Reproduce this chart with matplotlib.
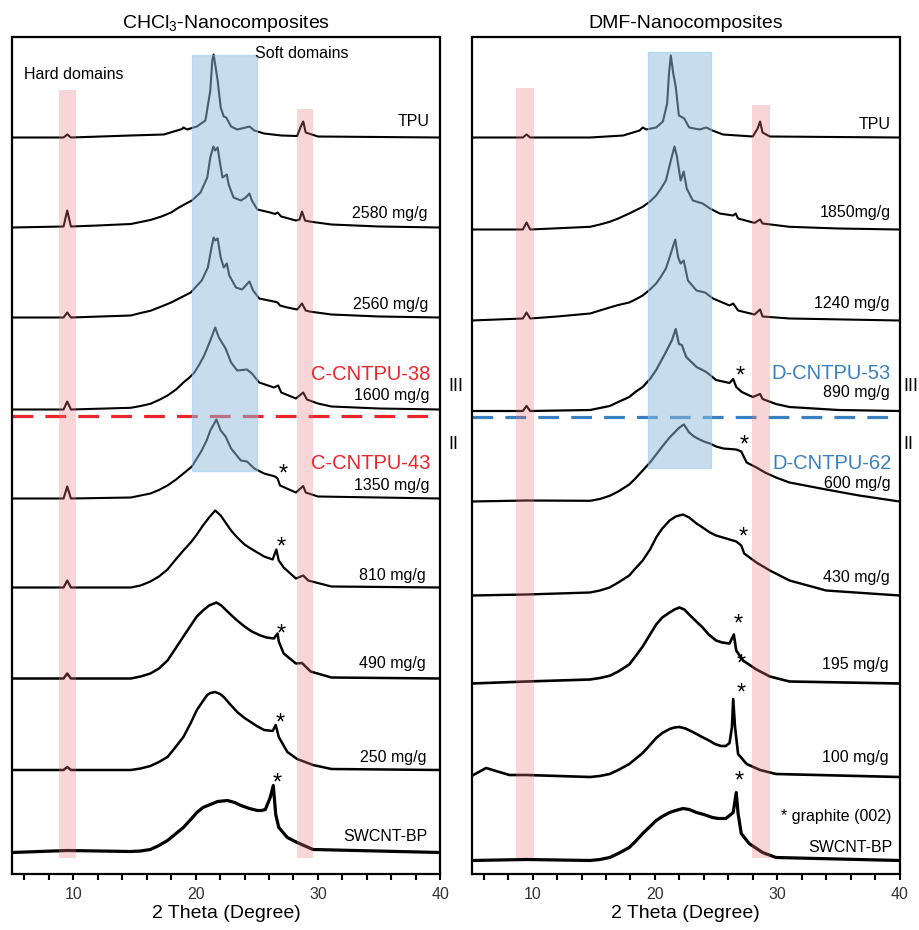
import matplotlib
matplotlib.use('Agg')
import matplotlib.pyplot as plt
from matplotlib.patches import Rectangle
from matplotlib.ticker import MultipleLocator

plt.rcParams['font.family'] = ['Liberation Sans', 'DejaVu Sans']
plt.rcParams['mathtext.fontset'] = 'custom'
plt.rcParams['mathtext.rm'] = 'Liberation Sans'

# ---- CHCl3 panel: 2 theta (x) and intensity above each baseline (h)
c_tpu_x = [5, 9.2, 9.5, 9.8, 14.7, 17.4, 18.9, 19.0, 19.3, 20.1, 20.8, 21.2, 21.36, 21.47, 21.6, 21.8, 22.05, 22.3, 22.5, 22.9, 23.4, 24.1, 24.4, 24.8, 25.6, 27.0, 28.3, 28.6, 28.8, 29.0, 30, 40]
c_tpu_h = [0, 0, 3, 0, 2, 3, 8.5, 10, 8, 11, 17, 47, 77, 83, 73, 57, 30, 21, 20, 11, 8, 10, 11, 7, 4, 2, 1.5, 11, 16, 5, 1, 0]
c_2580_x = [5, 9.2, 9.5, 9.8, 12, 14.7, 15.5, 16.3, 17.2, 18.0, 18.5, 19.0, 19.7, 20.4, 20.95, 21.2, 21.45, 21.6, 21.8, 22.0, 22.2, 22.55, 22.7, 23.1, 23.7, 24.1, 24.4, 24.6, 25.05, 26.1, 26.5, 26.7, 27.0, 28.2, 28.5, 28.7, 28.95, 29.3, 31.1, 35, 40]
c_2580_h = [0, 1, 17, 1, 2, 3.5, 5.5, 7.5, 11, 15, 19, 22.5, 27, 35, 50, 70, 81, 77, 80, 64, 50, 53, 43, 30, 27, 30, 34, 27, 18, 15, 13.5, 15, 11, 7, 8, 16, 7, 6, 3, 1, 0]
c_2560_x = [5, 9.2, 9.5, 9.8, 14.7, 15.5, 16.3, 17.2, 18.0, 18.8, 19.6, 20.5, 21.0, 21.3, 21.47, 21.6, 21.8, 22.05, 22.3, 22.55, 22.75, 23.3, 23.8, 24.4, 24.7, 25.2, 26.4, 26.7, 26.9, 27.5, 28.3, 28.7, 29.0, 29.3, 31.1, 35, 40]
c_2560_h = [0, 0, 5, 0, 2, 4.5, 6.7, 11, 15, 20, 25, 37, 50, 70, 80, 77, 79, 60, 50, 54, 42, 30, 28, 36, 27, 19, 16, 15, 12, 10, 8, 14, 7, 6, 3, 1, 0]
c_1600_x = [5, 9.2, 9.5, 9.8, 14.7, 15.5, 16.3, 17.0, 17.7, 18.4, 19.0, 19.5, 19.9, 20.3, 20.7, 21.2, 21.6, 21.9, 22.45, 22.9, 23.4, 24.2, 24.6, 25.2, 26.4, 26.75, 27.0, 28.2, 28.8, 29.1, 30, 31.1, 35, 40]
c_1600_h = [0, 0, 8, 0, 1.7, 3.5, 5.7, 9.5, 14, 20, 27, 32, 37, 45, 54, 69, 82, 72, 61, 47, 39, 40, 36, 27, 22, 24, 17, 11, 17, 10, 6, 3, 1, 0]
c_1350_x = [5, 9.2, 9.5, 9.8, 14.7, 15.5, 16.3, 17.0, 17.7, 18.4, 19.0, 19.4, 19.7, 20.1, 20.5, 20.9, 21.2, 21.7, 22.05, 22.45, 22.9, 23.7, 24.2, 24.8, 25.6, 26.5, 26.7, 26.9, 28.2, 28.8, 29.0, 30, 40]
c_1350_h = [0, 0, 12, 0, 1, 3, 5, 8.5, 13, 19, 25, 29, 32, 40, 48, 58, 68, 79, 68, 62, 50, 38, 37, 30, 25, 22, 20, 13, 6, 12.5, 6, 2, 0]
c_810_x = [5, 9.2, 9.5, 9.8, 14.7, 15.5, 16.3, 17.0, 17.7, 18.3, 19.0, 19.6, 20.1, 20.6, 21.1, 21.6, 22.05, 22.5, 22.9, 23.4, 24.0, 24.5, 25.05, 25.6, 26.3, 26.6, 26.8, 27.2, 28.2, 28.8, 29.2, 31.1, 40]
c_810_h = [0, 0, 7, 0, 0, 2, 6, 11, 18, 27, 37, 45, 53, 62, 70, 77, 72, 64, 57, 50, 43, 39, 35, 31, 28, 38, 27, 20, 9, 12, 7, 1, 0]
c_490_x = [5, 9.2, 9.5, 9.8, 14.7, 15.5, 16.3, 17.0, 17.7, 18.3, 19.0, 19.6, 20.1, 20.6, 21.1, 21.7, 22.1, 22.6, 23.3, 24.0, 24.6, 25.3, 25.8, 26.4, 26.7, 26.8, 27.2, 28.2, 28.7, 29.4, 31.1, 40]
c_490_h = [0, 0, 5, 0, 0, 2, 5, 10, 18, 29, 42, 53, 62, 68, 73, 76, 73, 67, 59, 52, 47, 43, 41, 40, 45, 37, 25, 15, 15.5, 7, 1, 0]
c_250_x = [5, 9.2, 9.5, 9.8, 14.7, 15.5, 16.3, 17.0, 17.7, 18.3, 19.0, 19.6, 20.1, 20.6, 20.95, 21.2, 21.6, 22.0, 22.3, 22.8, 23.4, 24.0, 24.5, 25.0, 25.6, 26.3, 26.55, 26.8, 27.5, 28.3, 29.6, 31.1, 40]
c_250_h = [0, 0, 3, 0, 0, 1.5, 4, 8, 13, 22, 33, 47, 60, 69, 75, 77, 78, 76, 73, 66, 58, 52, 48, 44, 40, 39, 45, 33, 18, 11, 5, 1, 0]
c_bp_x = [5, 9.5, 14.7, 15.5, 16.3, 17.0, 17.7, 18.3, 19.0, 19.6, 20.1, 20.6, 21.2, 21.8, 22.6, 23.2, 23.7, 24.4, 25.05, 25.4, 25.7, 26.1, 26.35, 26.55, 26.8, 27.5, 28.3, 29.6, 40]
c_bp_h = [0, 2, 1, 1.5, 3, 7, 12, 18, 25, 33, 40, 45, 48, 51, 52, 50, 47, 44, 42, 42, 43, 55, 67, 38, 25, 15, 10, 3, 0]

# ---- DMF panel
d_tpu_x = [5, 9.2, 9.5, 9.8, 14.7, 17.4, 18.75, 19.0, 19.3, 20.1, 20.65, 21.0, 21.15, 21.3, 21.5, 21.7, 21.96, 22.4, 22.8, 23.65, 24.2, 24.7, 25.56, 28.0, 28.4, 28.6, 28.8, 29.4, 40]
d_tpu_h = [0, 0, 3, 0, 0, 2, 7, 10, 8, 10, 16, 34, 64, 82, 64, 51, 22, 19, 10, 8, 10, 7, 3, 1, 9, 16, 5, 1, 0]
d_1850_x = [5, 9.2, 9.5, 9.8, 14.7, 15.5, 16.3, 17.0, 17.9, 18.4, 19.0, 19.6, 20.1, 20.5, 20.9, 21.3, 21.6, 21.8, 22.1, 22.35, 22.6, 23.1, 23.9, 24.5, 25.3, 26.4, 26.6, 26.8, 28.15, 28.6, 28.8, 31, 35, 40]
d_1850_h = [0, 0, 7, 0, 2.7, 5, 7.7, 11, 16, 19, 22.7, 28, 34, 41, 49, 69, 83, 73, 49, 58, 41, 29, 26, 21, 16, 14, 16, 11, 6.6, 10, 6, 2.7, 1, 0]
d_1240_x = [5, 9.2, 9.5, 9.8, 12, 14.7, 15.5, 16.3, 17.0, 17.9, 18.4, 19.0, 19.6, 20.1, 20.5, 20.9, 21.3, 21.66, 21.9, 22.1, 22.35, 22.7, 23.4, 24.1, 24.75, 26.1, 26.4, 26.8, 28.15, 28.6, 28.8, 31, 40]
d_1240_h = [0, 2, 8, 2, 4, 7, 10, 13, 15.5, 18, 21, 25, 31, 37, 44, 52, 67, 81, 63, 57, 60, 40, 30, 28, 22, 15, 17, 10, 6, 11, 4, 2, 0]
d_890_x = [5, 9.2, 9.5, 9.8, 14.7, 15.5, 16.3, 17.0, 17.9, 18.4, 19.0, 19.6, 20.1, 20.5, 20.9, 21.4, 21.7, 21.96, 22.2, 22.56, 23.4, 24.2, 25.0, 26.1, 26.4, 26.65, 27.1, 28.0, 28.6, 28.8, 29.9, 31, 35, 40]
d_890_h = [0, 0, 5, 0, 1, 3, 5, 9, 14, 19, 24, 32, 41, 50, 59, 71, 82, 67, 66, 54, 44, 39, 31, 28, 32, 24, 19, 14, 17, 12, 7, 4, 1, 0]
d_600_x = [5, 9.5, 14.7, 15.5, 16.3, 17.0, 17.9, 18.4, 19.0, 19.6, 20.1, 20.6, 21.2, 21.6, 22.0, 22.37, 22.8, 23.2, 23.65, 24.0, 24.5, 25.0, 25.6, 26.65, 27.06, 27.5, 28.3, 29.0, 29.9, 31, 34, 36.7, 40]
d_600_h = [0, 1, 0.7, 2.5, 5.7, 10, 17, 23, 31, 39, 47, 55, 64, 69, 74, 77, 69, 65, 62, 60, 58, 55, 53, 52, 50, 39, 34, 29, 24, 19, 12, 6, 0]
d_430_x = [5, 9.5, 14.7, 15.5, 16.3, 17.0, 17.9, 18.4, 19.0, 19.6, 20.1, 20.6, 21.2, 21.7, 22.3, 22.8, 23.4, 23.9, 24.5, 25.0, 25.56, 26.65, 27.06, 27.3, 28.3, 29.4, 31, 34, 40]
d_430_h = [0, 1, 3, 5, 8, 13, 20, 27, 35, 46, 58, 67, 75, 79, 81, 78, 72, 68, 63, 60, 58, 54, 50, 42, 33, 25, 15, 5, 0]
d_195_x = [5, 9.5, 14.7, 15.5, 16.3, 17.0, 17.9, 18.4, 19.0, 19.6, 20.1, 20.6, 21.2, 21.6, 22.0, 22.4, 22.8, 23.3, 23.9, 24.4, 25.0, 25.5, 26.1, 26.45, 26.65, 27.2, 28.3, 29.4, 31, 40]
d_195_h = [0, 2, 4, 5.5, 7.7, 12, 19, 27, 37, 49, 59, 66, 71, 74, 76, 74, 69, 63, 56, 49, 43, 41, 40, 49, 33, 23, 14, 7, 2, 0]
d_100_x = [5, 5.6, 6.2, 7.0, 8.1, 9.5, 14.7, 15.5, 16.3, 17.0, 17.9, 18.4, 19.0, 19.6, 20.1, 20.6, 21.2, 21.6, 22.0, 22.5, 23.1, 23.7, 24.5, 24.9, 25.4, 25.8, 26.1, 26.3, 26.4, 26.55, 26.8, 27.5, 28.6, 29.9, 40]
d_100_h = [1, 5, 9, 6, 2, 2, 0, 1, 3, 7, 13, 18, 24, 32, 39, 44, 48, 49.5, 50, 48.5, 45, 41, 36, 33, 31, 31, 34, 50, 78, 50, 23, 13, 7, 3, 0]
d_bp_x = [5, 9.5, 14.7, 15.5, 16.3, 17.0, 17.9, 18.4, 19.0, 19.6, 20.1, 20.6, 21.2, 21.7, 22.3, 22.8, 23.4, 24.0, 24.7, 25.2, 25.8, 26.4, 26.65, 26.8, 27.06, 27.7, 28.8, 29.9, 40]
d_bp_h = [0, 1, 0, 1, 3, 7, 13, 19, 27, 34, 40, 44, 48, 50, 52, 51, 48, 46, 43, 42, 42, 48, 68, 47, 27, 17, 8, 3, 0]

c_labels = ['TPU', '2580 mg/g', '2560 mg/g', '1600 mg/g', '1350 mg/g', '810 mg/g', '490 mg/g', '250 mg/g', 'SWCNT-BP']
d_labels = ['TPU', '1850mg/g', '1240 mg/g', '890 mg/g', '600 mg/g', '430 mg/g', '195 mg/g', '100 mg/g', 'SWCNT-BP']

c_curves = [(c_tpu_x, c_tpu_h), (c_2580_x, c_2580_h), (c_2560_x, c_2560_h), (c_1600_x, c_1600_h),
            (c_1350_x, c_1350_h), (c_810_x, c_810_h), (c_490_x, c_490_h), (c_250_x, c_250_h), (c_bp_x, c_bp_h)]
d_curves = [(d_tpu_x, d_tpu_h), (d_1850_x, d_1850_h), (d_1240_x, d_1240_h), (d_890_x, d_890_h),
            (d_600_x, d_600_h), (d_430_x, d_430_h), (d_195_x, d_195_h), (d_100_x, d_100_h), (d_bp_x, d_bp_h)]

# stacking offsets and label placement
c_offsets = [736, 646, 556, 464, 375, 286, 195, 103.5, 21]
d_offsets = [736, 644, 553, 462.5, 372, 278, 190, 96.5, 13]
c_label_y = [752.3, 660.3, 568.7, 478, 388, 298, 209.7, 116.3, 37]
d_label_y = [749, 661.3, 570.3, 480.7, 389.7, 295.7, 208.7, 116.3, 26.3]
c_label_x = [39.1, 39.0, 39.05, 39.15, 39.15, 38.8, 38.85, 38.85, 39.0]
d_label_x = [39.3, 39.3, 39.2, 39.2, 39.3, 39.2, 39.1, 39.1, 39.4]
c_widths = [1.5, 1.5, 1.5, 1.5, 1.5, 1.6, 1.8, 1.8, 2.3]
d_widths = [1.5, 1.5, 1.5, 1.6, 1.6, 1.7, 1.9, 1.9, 2.3]

c_star_x = [27.13, 26.96, 27.0, 26.88, 26.64]
c_star_y = [405.7, 333, 246.3, 157.3, 97]
d_star_x = [26.98, 27.27, 27.19, 26.85, 27.05, 27.06, 26.9]
d_star_y = [503.7, 434.7, 343, 256.3, 216.3, 187, 99]


def panel(ax, curves, offsets, widths, labels, lab_x, lab_y, star_x, star_y,
          blue_x, pink1_x, pink2_x, box_top, pink1_top, pink2_top, dash_y, dash_color,
          tag_hi, tag_lo, tag_hi_y):
    for (x, h), off, lw in zip(curves, offsets, widths):
        ax.plot(x, [v + off for v in h], color='black', lw=lw, zorder=2,
                solid_joinstyle='round')
    for lx, ly, t in zip(lab_x, lab_y, labels):
        ax.text(lx, ly, t, ha='right', va='center', fontsize=11.5, zorder=5)
    for sx, sy in zip(star_x, star_y):
        ax.text(sx, sy - 13, '*', ha='center', va='baseline', fontsize=17, zorder=5)
    ax.axhline(dash_y, color=dash_color, lw=2.3, dashes=(6.5, 3.8), zorder=1)
    ax.text(lab_x[3] + 0.05, tag_hi_y, tag_hi, ha='right', va='center',
            fontsize=14.5, color=dash_color, zorder=5)
    ax.text(lab_x[4] + 0.05, 410.3, tag_lo, ha='right', va='center', fontsize=14.5,
            color=dash_color, zorder=5)
    ax.add_patch(Rectangle((blue_x[0], box_top[0]), blue_x[1] - blue_x[0], box_top[1] - box_top[0],
                           facecolor='#91bbdb', alpha=0.5, edgecolor='#8cc8f2', lw=1, zorder=3))
    ax.add_patch(Rectangle((pink1_x[0], 16), pink1_x[1] - pink1_x[0], pink1_top - 16,
                           facecolor='#eb767d', alpha=0.3, lw=0, zorder=3))
    ax.add_patch(Rectangle((pink2_x[0], 16), pink2_x[1] - pink2_x[0], pink2_top - 16,
                           facecolor='#eb767d', alpha=0.3, lw=0, zorder=3))
    ax.set_xlim(5, 40)
    ax.set_ylim(0, 836)
    ax.set_yticks([])
    ax.xaxis.set_major_locator(MultipleLocator(10))
    ax.xaxis.set_minor_locator(MultipleLocator(2))
    ax.tick_params(axis='x', which='both', direction='out', length=4, width=1.5, colors='black',
                   labelsize=11.5, labelcolor='#333333', pad=6)
    for s in ax.spines.values():
        s.set_linewidth(1.6)
    ax.set_xlabel('2 Theta (Degree)', fontsize=14, labelpad=2)


fig = plt.figure(figsize=(9.19, 9.30), dpi=100)
ax1 = fig.add_axes([12.2 / 919, 56.5 / 930, 428 / 919, 836 / 930])
ax2 = fig.add_axes([471.5 / 919, 56.5 / 930, 428 / 919, 836 / 930])

panel(ax1, c_curves, c_offsets, c_widths, c_labels, c_label_x, c_label_y, c_star_x, c_star_y,
      (19.7, 25.0), (8.85, 10.25), (28.25, 29.6), (403, 819), 784, 765, 458, '#e8262c',
      'C-CNTPU-38', 'C-CNTPU-43', 499)
panel(ax2, d_curves, d_offsets, d_widths, d_labels, d_label_x, d_label_y, d_star_x, d_star_y,
      (19.4, 24.6), (8.67, 10.1), (27.9, 29.4), (406, 822), 786, 769, 457, '#3a80c0',
      'D-CNTPU-53', 'D-CNTPU-62', 500.3)

ax1.text(5.98, 798.7, 'Hard domains', ha='left', va='center', fontsize=11.5)
ax1.text(24.84, 820.3, 'Soft domains', ha='left', va='center', fontsize=11.5)
ax2.text(39.3, 57, '* graphite (002)', ha='right', va='center', fontsize=11.5)

ax1.set_title('CHCl$_3$-Nanocomposites', fontsize=14, pad=7)
ax2.set_title('DMF-Nanocomposites', fontsize=14, pad=7)

for xp in [448, 903]:
    fig.text(xp / 919, 1 - 386.7 / 930, 'III', ha='left', va='center', fontsize=13)
    fig.text(xp / 919, 1 - 444 / 930, 'II', ha='left', va='center', fontsize=13)

fig.savefig('out.png', dpi=100)
